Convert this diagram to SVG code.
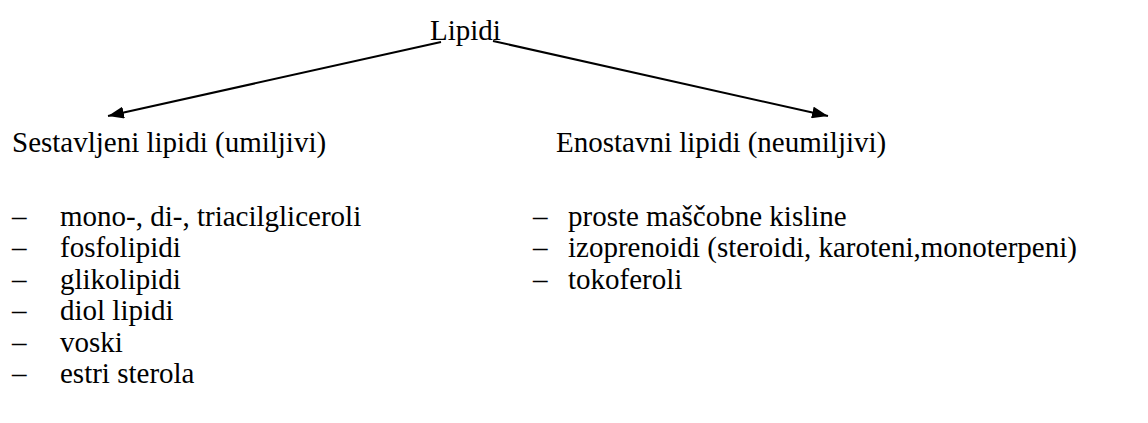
<svg xmlns="http://www.w3.org/2000/svg" width="1148" height="423" viewBox="0 0 1148 423">
<style>
text{font-family:'Liberation Serif','Times New Roman',serif;font-size:29px;fill:#000}
.c{stroke:#000;stroke-width:2;fill:none}
</style>
<defs>
<marker id="ah" viewBox="0 0 16 12" refX="16" refY="6" markerWidth="16" markerHeight="12" markerUnits="userSpaceOnUse" orient="auto"><path d="M0,0L16,6L0,12z" fill="#000"/></marker>
</defs>
<rect width="1148" height="423" fill="#fff"/>
<g id="connectors">
<line class="c" x1="441" y1="42" x2="108" y2="116" marker-end="url(#ah)"/>
<line class="c" x1="493" y1="41" x2="828" y2="116" marker-end="url(#ah)"/>
</g>
<g id="root"><text x="430" y="40">Lipidi</text></g>
<g id="left">
<text x="12" y="152">Sestavljeni lipidi (umiljivi)</text>
<text x="12" y="226">–</text><text x="60" y="226">mono-, di-, triacilgliceroli</text>
<text x="12" y="257">–</text><text x="60" y="257">fosfolipidi</text>
<text x="12" y="289">–</text><text x="60" y="289">glikolipidi</text>
<text x="12" y="320">–</text><text x="60" y="320">diol lipidi</text>
<text x="12" y="352">–</text><text x="60" y="352">voski</text>
<text x="12" y="383">–</text><text x="60" y="383">estri sterola</text>
</g>
<g id="right">
<text x="556" y="152">Enostavni lipidi (neumiljivi)</text>
<text x="533" y="226">–</text><text x="568" y="226">proste maščobne kisline</text>
<text x="533" y="257">–</text><text x="568" y="257">izoprenoidi (steroidi, karoteni,monoterpeni)</text>
<text x="533" y="289">–</text><text x="568" y="289">tokoferoli</text>
</g>
</svg>
